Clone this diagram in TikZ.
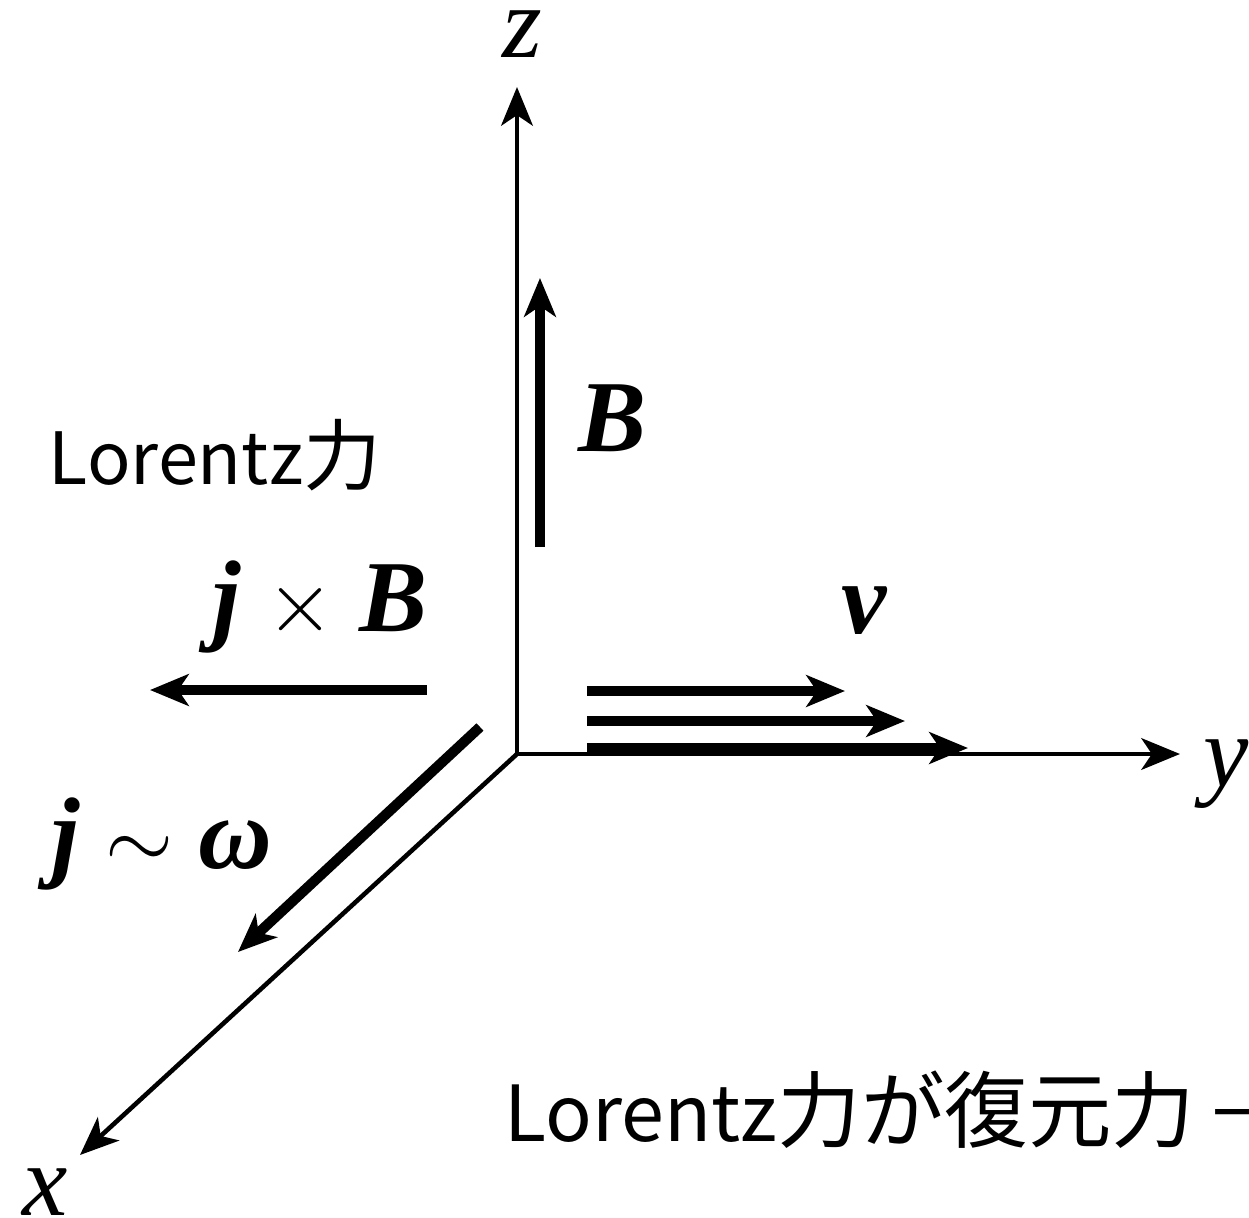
\documentclass[tikz,border=0pt]{standalone}
\usepackage{fontspec}
\setmainfont{Liberation Serif}
\newfontfamily\jpfont{Noto Sans CJK JP}
\newfontfamily\jpwide[Scale=1.08]{Noto Sans CJK JP}
\usetikzlibrary{arrows.meta}
\tikzset{
  axis/.style={-{Stealth[length=11pt,width=9pt,inset=3pt]}, line width=1.3pt},
  vec/.style={-{Stealth[length=11pt,width=9pt,inset=3pt]}, line width=2.9pt},
  sym/.style={font=\fontsize{29}{32}\selectfont\itshape, inner sep=0pt},
  bsym/.style={font=\fontsize{29}{32}\selectfont\bfseries\itshape, inner sep=0pt},
  jtxt/.style={font=\fontsize{22}{26}\selectfont\jpfont, inner sep=0pt}
}
\begin{document}
\begin{tikzpicture}
  \useasboundingbox (-5.17,-4.63) rectangle (7.32,7.54);
  % axes
  \coordinate (o) at (0,0);
  \coordinate (zt) at (0,6.67);
  \coordinate (yt) at (6.63,0);
  \coordinate (xt) at (-4.37,-4.01);
  \draw[axis] (o) -- (zt);
  \draw[axis] (o) -- (yt);
  \draw[axis] (o) -- (xt);
  \node[sym] (zl) at (0.05,7.20) {z};
  \node[sym, anchor=west] (yl) at (6.86,-0.2) {y};
  \node[sym] (xl) at (-4.72,-4.38) {x};

  % B
  \coordinate (b0) at (0.23,2.07);
  \coordinate (b1) at (0.23,4.76);
  \draw[vec] (b0) -- (b1);
  \node[bsym] (bl) at (0.95,3.36) {B};

  % j x B
  \coordinate (f0) at (-0.90,0.64);
  \coordinate (f1) at (-3.67,0.64);
  \draw[vec] (f0) -- (f1);
  \node[sym] (fl) at (-1.97,1.47) {\textbf{j} $\times$ \textbf{B}};

  % j ~ omega
  \coordinate (j0) at (-0.37,0.27);
  \coordinate (j1) at (-2.79,-1.98);
  \draw[vec] (j0) -- (j1);
  \node[sym] (jl) at (-3.55,-0.90) {\textbf{j} $\sim$ \textbf{ω}};

  % v
  \coordinate (v0) at (0.70,0.63);
  \coordinate (v1) at (3.28,0.63);
  \coordinate (w0) at (0.70,0.33);
  \coordinate (w1) at (3.88,0.33);
  \coordinate (u0) at (0.70,0.06);
  \coordinate (u1) at (4.51,0.06);
  \draw[vec] (v0) -- (v1);
  \draw[vec] (w0) -- (w1);
  \draw[vec] (u0) -- (u1);
  \node[bsym] (vl) at (3.47,1.43) {v};

  % texts
  \node[jtxt, font=\fontsize{20.5}{24}\selectfont\jpfont] (lf) at (-3.02,2.99) {Lorentz{\jpwide 力}};
  \node[jtxt, anchor=west] (rf) at (-0.13,-3.56) {Lorentz{\jpwide 力が復元力} →};
\end{tikzpicture}
\end{document}
